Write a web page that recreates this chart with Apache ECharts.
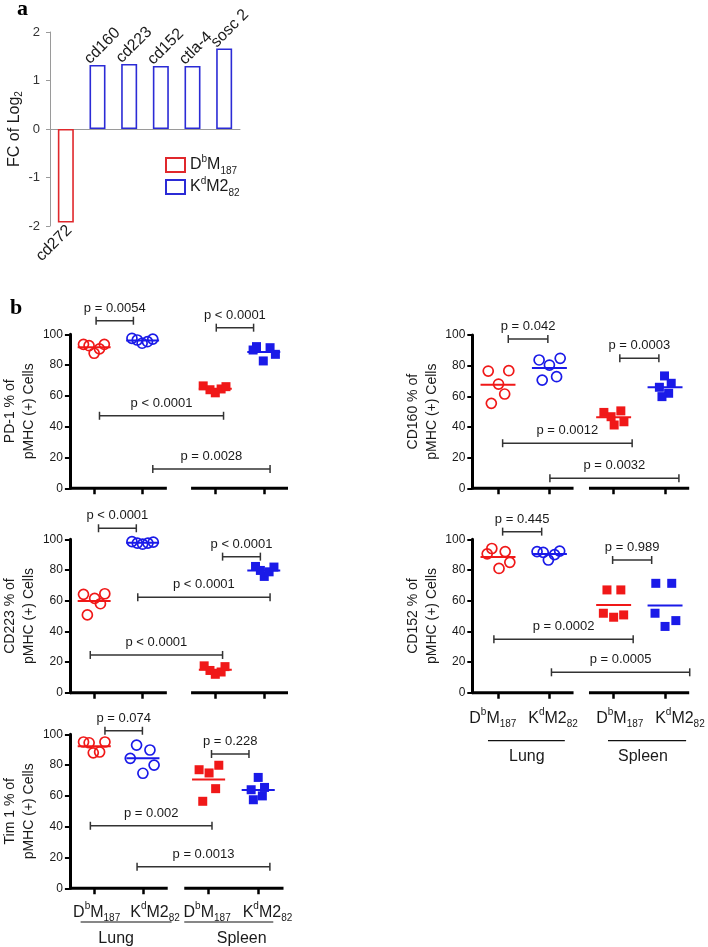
<!DOCTYPE html>
<html><head><meta charset="utf-8">
<script src="https://cdn.jsdelivr.net/npm/echarts@6/dist/echarts.min.js"></script>
<style>html,body{margin:0;padding:0;background:#fff}#c{width:708px;height:947px}</style>
</head><body><div id="c"></div>
<script>
// ---------------- DATA ----------------
// Panel a: fold change (log2)
const geneNames = ['cd272', 'cd160', 'cd223', 'cd152', 'ctla-4', 'sosc 2'];
const fcDbM187 = [-1.93, null, null, null, null, null];
const fcKdM282 = [null, 1.32, 1.34, 1.30, 1.30, 1.66];
const seriesNames = ['D^bM_187', 'K^dM2_82'];

// Panel b: group labels
const groupLabels = ['D^bM_187', 'K^dM2_82', 'D^bM_187', 'K^dM2_82'];
const tissueLabels = ['Lung', 'Spleen'];

// PD-1
const pd1LungDb = [93.5, 92.6, 87.7, 90.5, 93.5];
const pd1LungKd = [97.4, 96.3, 94.2, 95.2, 96.9];
const pd1SpleenDb = [66.5, 64, 62, 64.5, 66];
const pd1SpleenKd = [89.8, 92, 82.7, 91.3, 87];
const pd1P = ['p = 0.0054', 'p < 0.0001', 'p < 0.0001', 'p = 0.0028'];
// CD160
const cd160LungDb = [76.5, 76.7, 68, 61.5, 55.4];
const cd160LungKd = [83.7, 80.4, 84.8, 70.6, 72.8];
const cd160SpleenDb = [49.5, 50.5, 46.7, 41.3, 43.4];
const cd160SpleenKd = [73.3, 68.5, 65.9, 62, 59.8];
const cd160P = ['p = 0.042', 'p = 0.0003', 'p = 0.0012', 'p = 0.0032'];
// CD223
const cd223LungDb = [64.1, 61.5, 58, 64.5, 50.7];
const cd223LungKd = [98.5, 97.5, 96.8, 97.5, 98.2];
const cd223SpleenDb = [17.5, 14.5, 12, 13.5, 17];
const cd223SpleenKd = [82.3, 79.7, 75.8, 78.8, 81.9];
const cd223P = ['p < 0.0001', 'p < 0.0001', 'p < 0.0001', 'p < 0.0001'];
// CD152
const cd152LungDb = [90.5, 94, 92, 85, 81];
const cd152LungKd = [92, 91.5, 86.5, 90, 92.3];
const cd152SpleenDb = [67, 67, 51.8, 49.2, 50.7];
const cd152SpleenKd = [71.3, 71.3, 51.8, 47, 43.2];
const cd152P = ['p = 0.445', 'p = 0.989', 'p = 0.0002', 'p = 0.0005'];
// Tim 1
const tim1LungDb = [95, 94.5, 88, 88.5, 95];
const tim1LungKd = [93, 89.8, 84.4, 80, 74.7];
const tim1SpleenDb = [77, 74.9, 79.9, 64.7, 56.5];
const tim1SpleenKd = [72, 64, 65.5, 57.5, 60];
const tim1P = ['p = 0.074', 'p = 0.228', 'p = 0.002', 'p = 0.0013'];

// ---------------- LAYOUT / STYLE ----------------
const FONT = "'Liberation Sans', Arial, sans-serif";
const RED = '#f01818', BLUE = '#1a1ae8';
const RED_A = '#e0282c', BLUE_A = '#2b2bd6';
const INK = '#1a1a1a';

const rich = {
  n: {fontSize: 16, fontFamily: FONT, color: INK, lineHeight: 22, verticalAlign: 'middle'},
  sup: {fontSize: 10, fontFamily: FONT, color: INK, lineHeight: 11, verticalAlign: 'top'},
  sub: {fontSize: 10, fontFamily: FONT, color: INK, lineHeight: 11, verticalAlign: 'bottom'}
};
function toRich(s) {
  return ('{n|' + s.replace(/\^(.)/g, '}{sup|$1}{n|').replace(/_(\w+)/g, '}{sub|$1}{n|') + '}').replace(/\{n\|\}/g, '');
}

const panels = [
  {name: 'PD-1 % of\npMHC (+) Cells', groups: [pd1LungDb, pd1LungKd, pd1SpleenDb, pd1SpleenKd], p: pd1P,
   grid: {left: 61, top: 334.3, width: 227, height: 154}, xMax: 5.0, pos: [1, 2, 3.5, 4.5], segs: [[0.5, 2.5], [3.0, 5.0]],
   jitter: [[-0.22, -0.105, 0, 0.11, 0.21], [-0.22, -0.11, -0.01, 0.1, 0.21], [-0.25, -0.11, 0, 0.12, 0.22], [-0.22, -0.15, -0.01, 0.13, 0.24]],
   br: [[1.04, 1.81, 108.8], [3.52, 4.29, 104.3], [1.11, 3.67, 47.1], [2.21, 4.63, 12.5]], nameGap: 25},
  {name: 'CD160 % of\npMHC (+) Cells', groups: [cd160LungDb, cd160LungKd, cd160SpleenDb, cd160SpleenKd], p: cd160P,
   grid: {left: 472.3, top: 335, width: 216.9, height: 153.3}, xMax: 4.72, pos: [1, 2, 3.25, 4.25], segs: [[0.5, 2.47], [2.77, 4.72]],
   jitter: [[-0.19, 0.21, 0.01, 0.13, -0.13], [-0.2, 0, 0.21, -0.14, 0.14], [-0.19, 0.14, -0.05, 0.01, 0.2], [-0.01, 0.12, -0.11, 0.07, -0.06]],
   br: [[1.2, 1.97, 97.4], [3.37, 4.13, 84.8], [1.09, 3.61, 29.4], [2.01, 4.52, 6.5]], nameGap: 26},
  {name: 'CD223 % of\npMHC (+) Cells', groups: [cd223LungDb, cd223LungKd, cd223SpleenDb, cd223SpleenKd], p: cd223P,
   grid: {left: 61, top: 539.3, width: 227, height: 153.4}, xMax: 5.0, pos: [1, 2, 3.5, 4.5], segs: [[0.5, 2.5], [3.0, 5.0]],
   jitter: [[-0.22, 0.01, 0.13, 0.22, -0.14], [-0.22, -0.11, 0, 0.11, 0.22], [-0.23, -0.11, 0, 0.12, 0.2], [-0.17, -0.07, 0.01, 0.11, 0.21]],
   br: [[1.09, 1.87, 107.2], [3.65, 4.43, 88.7], [1.9, 4.63, 62.2], [0.92, 3.65, 24.6]], nameGap: 25},
  {name: 'CD152 % of\npMHC (+) Cells', groups: [cd152LungDb, cd152LungKd, cd152SpleenDb, cd152SpleenKd], p: cd152P,
   grid: {left: 472.3, top: 539.3, width: 216.9, height: 153.4}, xMax: 4.72, pos: [1, 2, 3.25, 4.25], segs: [[0.5, 2.47], [2.77, 4.72]],
   jitter: [[-0.21, -0.12, 0.14, 0.23, 0.02], [-0.24, -0.12, -0.02, 0.1, 0.2], [-0.13, 0.14, -0.2, 0, 0.195], [-0.18, 0.13, -0.195, 0.21, 0]],
   br: [[1.09, 1.85, 105], [3.23, 3.99, 86.5], [0.92, 3.63, 34.8], [2.04, 4.73, 13.3]], nameGap: 26,
   xLabels: {margin: 15, at: [0.9, 2.07, 3.37, 4.54], tissue: [[0.805, 2.3], [3.14, 4.66]], tissueText: [1.56, 3.82], lineOff: 48, textOff: 64}},
  {name: 'Tim 1 % of\npMHC (+) Cells', groups: [tim1LungDb, tim1LungKd, tim1SpleenDb, tim1SpleenKd], p: tim1P,
   grid: {left: 61, top: 734.3, width: 223, height: 154}, xMax: 4.9, pos: [1, 2, 3.35, 4.37], segs: [[0.5, 2.51], [2.85, 4.89]],
   jitter: [[-0.22, -0.105, -0.02, 0.11, 0.22], [-0.13, 0.145, -0.26, 0.23, 0], [-0.195, 0.01, 0.21, 0.145, -0.12], [0, -0.145, 0.13, -0.1, 0.085]],
   br: [[1.22, 1.99, 102.3], [3.41, 4.18, 87.2], [0.92, 3.42, 40.6], [1.88, 4.61, 14]], nameGap: 25,
   xLabels: {margin: 13, at: [1.05, 2.25, 3.32, 4.56], tissue: [[0.72, 2.59], [2.85, 4.68]], tissueText: [1.45, 4.03], lineOff: 33.7, textOff: 50.7}}
];

// ---------------- OPTION ----------------
const grids = [{left: 50, top: 32, width: 190, height: 194}];
const xAxes = [{
  gridIndex: 0, type: 'category', data: geneNames,
  axisLine: {onZero: true, lineStyle: {color: '#9a9a9a', width: 1}},
  axisTick: {show: false}, axisLabel: {show: false}
}];
const yAxes = [{
  gridIndex: 0, type: 'value', min: -2, max: 2, interval: 1,
  axisLine: {show: true, lineStyle: {color: '#9a9a9a', width: 1}},
  axisTick: {show: true, length: 4, lineStyle: {color: '#9a9a9a'}},
  axisLabel: {fontSize: 13, color: '#333', fontFamily: FONT, margin: 10},
  splitLine: {show: false},
  name: '{a|FC of Log}{s|2}', nameLocation: 'middle', nameRotate: 90, nameGap: 23,
  nameTextStyle: {rich: {a: {fontSize: 16, fontFamily: FONT, color: INK, lineHeight: 20}, s: {fontSize: 10, fontFamily: FONT, color: INK, lineHeight: 10, verticalAlign: 'bottom'}}}
}];
const series = [
  {type: 'bar', name: seriesNames[0], xAxisIndex: 0, yAxisIndex: 0, data: fcDbM187, barWidth: 16, barGap: '-100%',
   itemStyle: {color: '#fff', borderColor: RED_A, borderWidth: 1.6},
   label: {show: true, position: 'bottom', rotate: 45, align: 'right', verticalAlign: 'middle', distance: 6, offset: [3, 2],
           formatter: '{b}', fontSize: 16, fontFamily: FONT, color: INK}},
  {type: 'bar', name: seriesNames[1], xAxisIndex: 0, yAxisIndex: 0, data: fcKdM282, barWidth: 16, barGap: '-100%',
   itemStyle: {color: '#fff', borderColor: BLUE_A, borderWidth: 1.6},
   label: {show: true, position: 'top', rotate: 45, align: 'left', verticalAlign: 'bottom', distance: 3, offset: [-7, 0],
           formatter: '{b}', fontSize: 16, fontFamily: FONT, color: INK}}
];

panels.forEach((pn, k) => {
  const gi = k + 1;
  grids.push(pn.grid);
  const xl = pn.xLabels;
  xAxes.push({
    gridIndex: gi, type: 'value', min: 0.5, max: pn.xMax,
    axisLine: {show: false},
    axisTick: {show: true, customValues: pn.pos, length: 6, lineStyle: {color: '#000', width: 2.5}},
    axisLabel: xl ? {show: true, customValues: xl.at, margin: xl.margin,
      formatter: v => toRich(groupLabels[xl.at.indexOf(v)] || ''), rich: rich} : {show: false},
    splitLine: {show: false}
  });
  yAxes.push({
    gridIndex: gi, type: 'value', min: 0, max: 100, interval: 20,
    axisLine: {show: true, lineStyle: {color: '#000', width: 3}},
    axisTick: {show: true, length: 5, lineStyle: {color: '#000', width: 2}},
    axisLabel: {fontSize: 12, color: INK, fontFamily: FONT, margin: 7},
    splitLine: {show: false},
    name: pn.name, nameLocation: 'middle', nameRotate: 90, nameGap: pn.nameGap,
    nameTextStyle: {fontSize: 14, lineHeight: 19, fontFamily: FONT, color: INK}
  });
  // broken x-axis segments
  series.push({
    type: 'custom', xAxisIndex: gi, yAxisIndex: gi, clip: false, silent: true, z: 6,
    data: pn.segs.map(s => [s[0], 0]),
    renderItem: (params, api) => {
      const s = pn.segs[params.dataIndex];
      const a = api.coord([s[0], 0]), b = api.coord([s[1], 0]);
      return {type: 'line', shape: {x1: a[0], y1: a[1], x2: b[0], y2: b[1]}, style: {stroke: '#000', lineWidth: 3}};
    }
  });
  // points + means
  pn.groups.forEach((vals, g) => {
    const color = (g % 2 === 0) ? RED : BLUE;
    const isLung = g < 2;
    series.push({
      type: 'scatter', xAxisIndex: gi, yAxisIndex: gi, z: 4,
      symbol: isLung ? 'circle' : 'rect', symbolSize: isLung ? 10 : 9,
      itemStyle: isLung ? {color: 'rgba(255,255,255,0)', borderColor: color, borderWidth: 1.7, opacity: 1} : {color: color, opacity: 1},
      data: vals.map((v, i) => [pn.pos[g] + pn.jitter[g][i], v])
    });
    const mean = vals.reduce((a, b) => a + b, 0) / vals.length;
    series.push({
      type: 'custom', xAxisIndex: gi, yAxisIndex: gi, z: 3, silent: true,
      data: [[pn.pos[g], mean]],
      renderItem: (params, api) => {
        const a = api.coord([api.value(0) - 0.34, api.value(1)]), b = api.coord([api.value(0) + 0.34, api.value(1)]);
        return {type: 'line', shape: {x1: a[0], y1: a[1], x2: b[0], y2: b[1]}, style: {stroke: color, lineWidth: 2}};
      }
    });
  });
  // p-value brackets
  series.push({
    type: 'custom', xAxisIndex: gi, yAxisIndex: gi, clip: false, silent: true, z: 5,
    data: pn.br.map(b => [b[0], b[2]]),
    renderItem: (params, api) => {
      const b = pn.br[params.dataIndex];
      const p1 = api.coord([b[0], b[2]]), p2 = api.coord([b[1], b[2]]);
      const st = {stroke: '#333', lineWidth: 1.5};
      return {type: 'group', children: [
        {type: 'line', shape: {x1: p1[0], y1: p1[1], x2: p2[0], y2: p2[1]}, style: st},
        {type: 'line', shape: {x1: p1[0], y1: p1[1] - 4, x2: p1[0], y2: p1[1] + 4}, style: st},
        {type: 'line', shape: {x1: p2[0], y1: p2[1] - 4, x2: p2[0], y2: p2[1] + 4}, style: st},
        {type: 'text', x: (p1[0] + p2[0]) / 2, y: p1[1] - 6,
         style: {text: pn.p[params.dataIndex], fill: INK, fontSize: 13, fontFamily: FONT, align: 'center', verticalAlign: 'bottom'}}
      ]};
    }
  });
  // tissue group lines / labels
  if (xl) {
    series.push({
      type: 'custom', xAxisIndex: gi, yAxisIndex: gi, clip: false, silent: true, z: 5,
      data: xl.tissue.map(t => [t[0], 0]),
      renderItem: (params, api) => {
        const t = xl.tissue[params.dataIndex];
        const a = api.coord([t[0], 0]), b = api.coord([t[1], 0]);
        const c = api.coord([xl.tissueText[params.dataIndex], 0]);
        return {type: 'group', children: [
          {type: 'line', shape: {x1: a[0], y1: a[1] + xl.lineOff, x2: b[0], y2: b[1] + xl.lineOff}, style: {stroke: '#111', lineWidth: 1.2}},
          {type: 'text', x: c[0], y: a[1] + xl.textOff,
           style: {text: tissueLabels[params.dataIndex], fill: INK, fontSize: 16, fontFamily: FONT, align: 'center', verticalAlign: 'middle'}}
        ]};
      }
    });
  }
});

const option = {
  animation: false,
  backgroundColor: '#fff',
  grid: grids, xAxis: xAxes, yAxis: yAxes, series: series,
  legend: {
    data: seriesNames, orient: 'vertical', left: 165, top: 154, padding: 0, itemWidth: 19, itemHeight: 14, itemGap: 0,
    icon: 'rect', formatter: n => toRich(n), textStyle: {rich: rich}
  },
  graphic: [
    {type: 'text', left: 17, top: -2, style: {text: 'a', fontSize: 22, fontWeight: 'bold', fontFamily: "'Liberation Serif', serif", fill: '#000'}},
    {type: 'text', left: 10, top: 297, style: {text: 'b', fontSize: 22, fontWeight: 'bold', fontFamily: "'Liberation Serif', serif", fill: '#000'}}
  ]
};
const chart = echarts.init(document.getElementById('c'), null, {renderer: 'canvas'});
chart.setOption(option);
</script>
</body></html>
